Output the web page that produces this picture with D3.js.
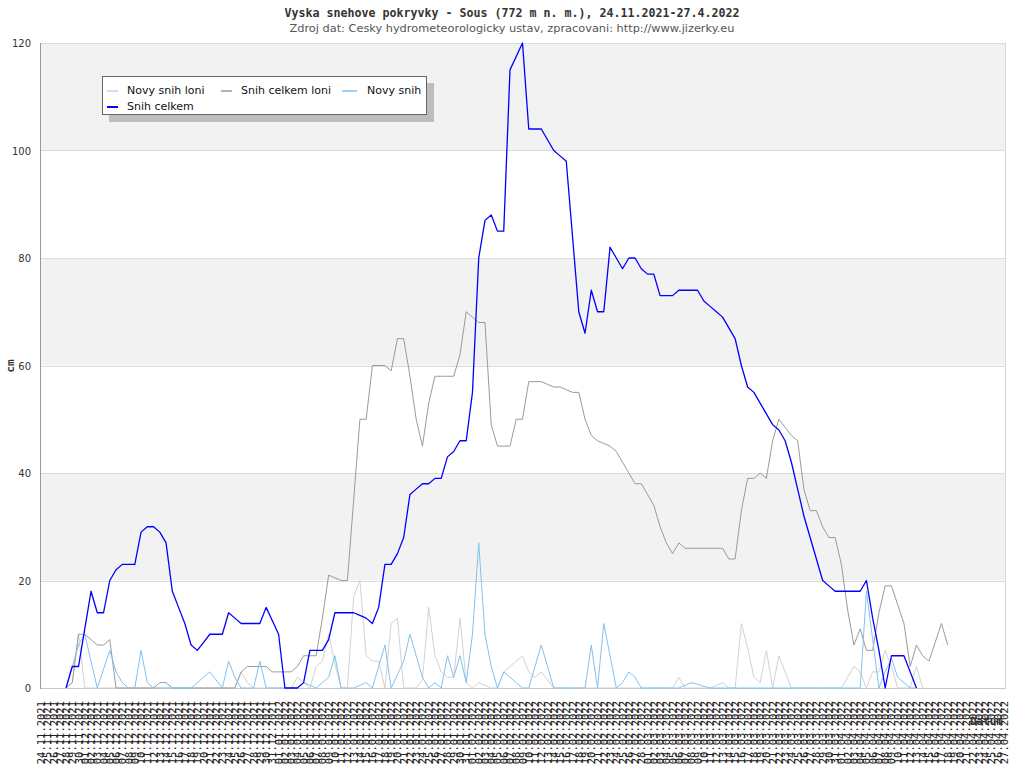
<!DOCTYPE html>
<html><head><meta charset="utf-8">
<script src="https://cdn.jsdelivr.net/npm/d3@7"></script>
<style>html,body{margin:0;padding:0;background:#fff;}svg{display:block;}</style>
</head><body>
<svg id="c" width="1024" height="768"></svg>
<script>
const titleText = "Vyska snehove pokryvky - Sous (772 m n. m.), 24.11.2021-27.4.2022";
const subtitleText = "Zdroj dat: Cesky hydrometeorologicky ustav, zpracovani: http://www.jizerky.eu";
const seriesNames = ["Novy snih loni", "Snih celkem loni", "Novy snih", "Snih celkem"];
const yTicks = [0, 20, 40, 60, 80, 100, 120];
const startDate = new Date(2021, 10, 24);
const endDate = new Date(2022, 3, 28);
const N = null;

// index 0 = 24.11.2021 ... index 154 = 27.04.2022
const novySnihLoni = [N,N,N,N,0,1,10,0,0,0,
 0,0,0,0,0,0,0,0,0,0,
 0,0,0,0,0,0,0,0,0,0,
 0,0,3,1,0,0,0,0,0,0,
 0,2,1,0,4,5,10,4.5,0,0,
 17,20,6,5,5,0,12,13,0,0,
 0,1.5,15,6,3,2,2,13,1,0,
 1,0.5,0,0,3,4,5,6,3,2,
 3,1.5,0,0,0,0,0,0,0,0,
 0,0,0,0,0,0,0,0,0,0,
 0,0,2,0,0,0,0,0,0.5,1,
 0,0,12,7.5,2,1,7,0,6,3,
 0,0,0,0,0,0,0,0,0,2,
 4,3,0,3,3,7,4,0,0,0,
 4,0,N,N,N,N,N,N,N,N,
 N,N,N,N,N];
const snihCelkemLoni = [N,N,N,N,0,1,10,10,9,8,
 8,9,0,0,0,0,0,0,0,1,
 1,0,0,0,0,0,0,0,0,0,
 0,0,3,4,4,4,4,3,3,3,
 3,4,6,6,6,13,21,20.5,20,20,
 35,50,50,60,60,60,59,65,65,58,
 50,45,53,58,58,58,58,62,70,69,
 68,68,49,45,45,45,50,50,57,57,
 57,56.5,56,56,55.5,55,55,50,47,46,
 45.5,45,44,42,40,38,38,36,34,30,
 27,25,27,26,26,26,26,26,26,26,
 24,24,33,39,39,40,39,46,50,48.5,
 47,46,37,33,33,30,28,28,23,14.5,
 8,11,7,7,14,19,19,15.5,12,4,
 8,6,5,8.5,12,8,N,N,N,N,
 N,N,N,N,N];
const novySnih = [N,N,N,N,0,4,8,10,5,0,
 3.5,7,3,1,0,0,7,1,0,0,
 0,0,0,0,0,1,2,3,1.5,0,
 5,2,0,0,0,5,0,0,0,0,
 0,0,1,0.5,0,1,2,6,0,0,
 0,0.5,1,0,4,8,0,2.5,5,10,
 6,2,0,1,0,6,2,6,1,10,
 27,10,4,0,3,2,1,0,0,4,
 8,4,0,0,0,0,0,0,8,0,
 12,6,0,1,3,2,0,0,0,0,
 0,0,0,0.5,1,0.7,0.3,0,0,0,
 0,0,0,0,0,0,0,0,0,0,
 0,0,0,0,0,0,0,0,0,0,
 0,0,18,9,0,3,5.5,2,1,0,
 0,N,N,N,N,N,N,N,N,N,
 N,N,N,N,N];
const snihCelkem = [N,N,N,N,0,4,4,11,18,14,
 14,20,22,23,23,23,29,30,30,29,
 27,18,15,12,8,7,8.5,10,10,10,
 14,13,12,12,12,12,15,12.5,10,0,
 0,0,1,7,7,7,9,14,14,14,
 14,13.5,13,12,15,23,23,25,28,36,
 37,38,38,39,39,43,44,46,46,55,
 80,87,88,85,85,115,117.5,120,104,104,
 104,102,100,99,98,84,70,66,74,70,
 70,82,80,78,80,80,78,77,77,73,
 73,73,74,74,74,74,72,71,70,69,
 67,65,60,56,55,53,51,49,48,46,
 42,37,32,28,24,20,19,18,18,18,
 18,18,20,13,7,0,6,6,6,3,
 0,N,N,N,N,N,N,N,N,N,
 N,N,N,N,N];
const seriesColors = ["#d2d2d2", "#9a9a9a", "#80c2f0", "#0000ff"];
const seriesWidths = [1, 1, 1, 1.3];

(function () {
const svg = d3.select("#c");
const days = d3.timeDays(startDate, endDate);
const fmt = d3.timeFormat("%d.%m.%Y");
const labels = days.map(fmt);

const pL = 40, pR = 1005, pT = 43, pB = 688;
const x = d3.scalePoint().domain(d3.range(labels.length)).range([41, 1004]);
const y = d3.scaleLinear().domain([0, 120]).range([pB, pT]);

// background bands
const g = svg.append("g");
for (let k = 0; k < yTicks.length - 1; k++) {
  g.append("rect")
    .attr("x", pL).attr("width", pR - pL)
    .attr("y", y(yTicks[k + 1])).attr("height", y(yTicks[k]) - y(yTicks[k + 1]))
    .attr("fill", k % 2 === 1 ? "#f2f2f2" : "#ffffff");
}
// grid lines
g.selectAll("line.grid").data(yTicks.slice(1)).join("line")
  .attr("x1", pL).attr("x2", pR)
  .attr("y1", d => Math.round(y(d)) + 0.5).attr("y2", d => Math.round(y(d)) + 0.5)
  .attr("stroke", "#dcdcdc").attr("stroke-width", 1);
// frame
g.append("line").attr("x1", pR + 0.5).attr("x2", pR + 0.5).attr("y1", pT).attr("y2", pB + 1)
  .attr("stroke", "#d8d8d8");
g.append("line").attr("x1", pL).attr("x2", pR).attr("y1", pB + 0.5).attr("y2", pB + 0.5)
  .attr("stroke", "#c8c8c8");
g.append("line").attr("x1", pL + 0.5).attr("x2", pL + 0.5).attr("y1", pT).attr("y2", pB + 1)
  .attr("stroke", "#999");

// y tick labels
svg.append("g").selectAll("text").data(yTicks).join("text")
  .attr("x", 31).attr("y", d => y(d) + 4)
  .attr("text-anchor", "end")
  .attr("font-family", "DejaVu Sans, sans-serif").attr("font-size", 10)
  .attr("fill", "#333").text(d => d);

// x tick labels (rotated)
svg.append("g").selectAll("text").data(labels).join("text")
  .attr("transform", (d, i) => `translate(${x(i) + 4},701) rotate(-90)`)
  .attr("text-anchor", "end")
  .attr("font-family", "DejaVu Sans Mono, monospace").attr("font-size", 10.5)
  .attr("fill", "#222").text(d => d);

// axis titles
svg.append("text").attr("x", 1003).attr("y", 725).attr("text-anchor", "end")
  .attr("font-family", "DejaVu Sans Mono, monospace").attr("font-weight", "bold")
  .attr("font-size", 11).attr("fill", "#333").text("Datum");
svg.append("text").attr("transform", "translate(14,366) rotate(-90)").attr("text-anchor", "middle")
  .attr("font-family", "DejaVu Sans Mono, monospace").attr("font-weight", "bold")
  .attr("font-size", 11).attr("fill", "#333").text("cm");

// lines
const allSeries = [novySnihLoni, snihCelkemLoni, novySnih, snihCelkem];
const line = d3.line().defined(d => d[1] != null).x(d => x(d[0])).y(d => y(d[1]));
allSeries.forEach((s, k) => {
  svg.append("path").datum(s.map((v, i) => [i, v]))
    .attr("d", line).attr("fill", "none")
    .attr("stroke", seriesColors[k]).attr("stroke-width", seriesWidths[k])
    .attr("stroke-linejoin", "round");
});

// title & subtitle
function fit(sel, w) {
  const n = sel.node();
  const fs = parseFloat(sel.attr("font-size"));
  const len = n.getComputedTextLength();
  if (len > 0) sel.attr("font-size", (fs * w / len).toFixed(2));
}
const t1 = svg.append("text").attr("x", 512).attr("y", 17).attr("text-anchor", "middle")
  .attr("font-family", "DejaVu Sans Mono, monospace").attr("font-weight", "bold")
  .attr("font-size", 11).attr("fill", "#333").text(titleText);
fit(t1, 455);
const t2 = svg.append("text").attr("x", 512).attr("y", 32).attr("text-anchor", "middle")
  .attr("font-family", "DejaVu Sans, sans-serif")
  .attr("font-size", 11).attr("fill", "#555").text(subtitleText);
fit(t2, 445);

// legend
const lg = svg.append("g");
lg.append("rect").attr("x", 109).attr("y", 83).attr("width", 325).attr("height", 39).attr("fill", "#bdbdbd");
lg.append("rect").attr("x", 102.5).attr("y", 76.5).attr("width", 324).attr("height", 38)
  .attr("fill", "#fff").attr("stroke", "#666");
const legPos = [[107, 91], [221, 91], [342, 91], [107, 107]];
const legTextX = [127, 241, 367, 127];
seriesNames.forEach((nm, k) => {
  lg.append("line").attr("x1", legPos[k][0]).attr("x2", legPos[k][0] + (k === 2 ? 15 : 11))
    .attr("y1", legPos[k][1]).attr("y2", legPos[k][1])
    .attr("stroke", seriesColors[k]).attr("stroke-width", k === 3 ? 2 : 1.5);
  lg.append("text").attr("x", legTextX[k]).attr("y", legPos[k][1] + 3)
    .attr("font-family", "DejaVu Sans, sans-serif").attr("font-size", 11)
    .attr("fill", "#111").text(nm);
});
})();
</script>
</body></html>
